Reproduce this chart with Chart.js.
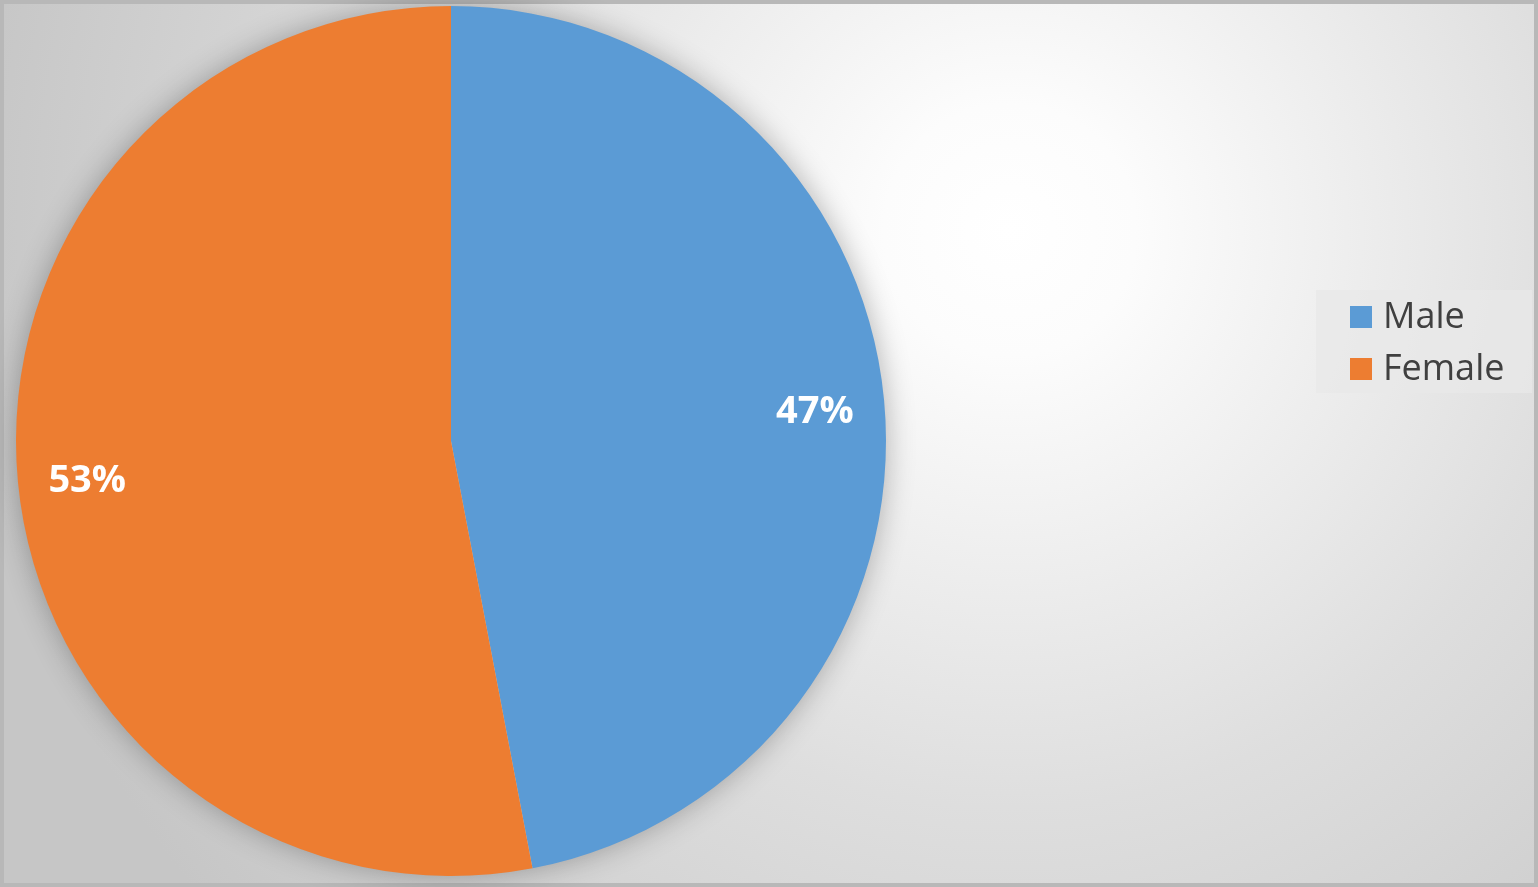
<!DOCTYPE html>
<html>
<head>
<meta charset="utf-8">
<script src="https://cdn.jsdelivr.net/npm/chart.js@4.4.1/dist/chart.umd.min.js"></script>
<style>
  html, body { margin: 0; padding: 0; background: #d0d0d0; }
  #wrap { width: 1538px; height: 887px; position: relative; }
</style>
</head>
<body>
<div id="wrap"><canvas id="chart"></canvas></div>
<script>
const categories = ['Male', 'Female']
const shares = [47, 53]
const sliceColors = ['#5B9BD5', '#ED7D31']

// gray frame + radial backdrop like the office chart
const backdrop = {
  id: 'backdrop',
  beforeDraw(chart) {
    const { ctx, width, height } = chart
    ctx.save()
    const g = ctx.createRadialGradient(1010, 230, 0, 1010, 230, 1050)
    g.addColorStop(0, '#ffffff')
    g.addColorStop(0.12, '#fcfcfc')
    g.addColorStop(0.55, '#dedede')
    g.addColorStop(1, '#c6c6c6')
    ctx.fillStyle = g
    ctx.fillRect(0, 0, width, height)
    ctx.strokeStyle = '#b8b8b8'
    ctx.lineWidth = 8
    ctx.strokeRect(0, 0, width, height)
    ctx.restore()
  }
}

// soft shadow behind the whole pie (one disk, so slices don't shade each other)
const pieShadow = {
  id: 'pieShadow',
  beforeDatasetsDraw(chart) {
    const ctx = chart.ctx
    const arc = chart.getDatasetMeta(0).data[0]
    if (!arc) return
    const p = arc.getProps(['x', 'y', 'outerRadius'], true)
    ctx.save()
    ctx.shadowColor = 'rgba(0, 0, 0, 0.3)'
    ctx.shadowBlur = 30
    ctx.fillStyle = '#cccccc'
    ctx.beginPath()
    ctx.arc(p.x, p.y, p.outerRadius - 1, 0, Math.PI * 2)
    ctx.fill()
    ctx.restore()
  }
}

// percent labels placed on the arcs
const sliceLabels = {
  id: 'sliceLabels',
  afterDatasetsDraw(chart) {
    const ctx = chart.ctx
    const meta = chart.getDatasetMeta(0)
    ctx.save()
    ctx.fillStyle = '#ffffff'
    ctx.font = 'bold 38px "Open Sans", sans-serif'
    ctx.textAlign = 'center'
    ctx.textBaseline = 'middle'
    meta.data.forEach((arc, i) => {
      const p = arc.getProps(['x', 'y', 'startAngle', 'endAngle', 'outerRadius'], true)
      const mid = (p.startAngle + p.endAngle) / 2
      const r = p.outerRadius * 0.84
      ctx.fillText(shares[i] + '%', p.x + Math.cos(mid) * r, p.y + Math.sin(mid) * r + 6)
    })
    ctx.restore()
  }
}

// legend box on the right
const boxLegend = {
  id: 'boxLegend',
  afterDraw(chart) {
    const ctx = chart.ctx
    const bx = 1316, by = 290, bw = 216, bh = 103
    ctx.save()
    ctx.fillStyle = 'rgba(232, 232, 232, 0.75)'
    ctx.fillRect(bx, by, bw, bh)
    ctx.font = '36px "Open Sans", sans-serif'
    ctx.textBaseline = 'middle'
    chart.data.labels.forEach((label, i) => {
      const cy = by + 27 + i * 52
      ctx.fillStyle = chart.data.datasets[0].backgroundColor[i]
      ctx.fillRect(bx + 34, cy - 11, 22, 22)
      ctx.fillStyle = '#404040'
      ctx.fillText(label, bx + 67, cy + 1)
    })
    ctx.restore()
  }
}

new Chart(document.getElementById('chart'), {
  type: 'pie',
  data: {
    labels: categories,
    datasets: [{
      data: shares,
      backgroundColor: sliceColors,
      borderWidth: 0
    }]
  },
  options: {
    responsive: true,
    maintainAspectRatio: false,
    animation: false,
    layout: {
      padding: { left: 16, top: 6, right: 652, bottom: 11 }
    },
    plugins: {
      legend: { display: false },
      tooltip: { enabled: false }
    }
  },
  plugins: [backdrop, pieShadow, sliceLabels, boxLegend]
})
</script>
</body>
</html>
